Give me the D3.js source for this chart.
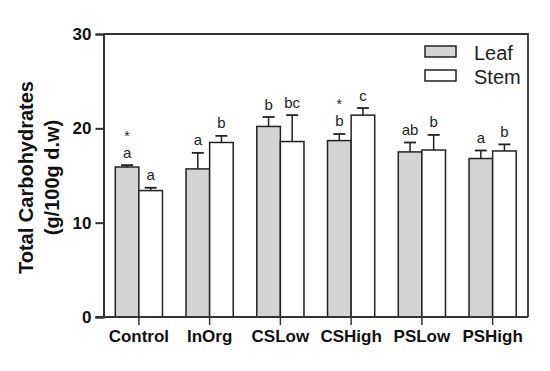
<!DOCTYPE html>
<html><head><meta charset="utf-8">
<script src="https://cdn.jsdelivr.net/npm/d3@7"></script>
<style>body{margin:0;background:#fff}svg{display:block}</style>
</head><body>
<script>
const categories = ["Control","InOrg","CSLow","CSHigh","PSLow","PSHigh"];
const seriesNames = ["Leaf","Stem"];
const leafValues = [15.9, 15.7, 20.2, 18.7, 17.5, 16.8];
const leafErrors = [0.2, 1.7, 1.0, 0.7, 1.0, 0.85];
const stemValues = [13.4, 18.5, 18.6, 21.4, 17.7, 17.6];
const stemErrors = [0.3, 0.7, 2.8, 0.75, 1.6, 0.7];
const leafLetters = ["a","a","b","b","ab","a"];
const stemLetters = ["a","b","bc","c","b","b"];
const leafStars = [true,false,false,true,false,false];
const yTicks = [0,10,20,30];

const W=550,H=371;
const m={l:103.5,r:22,t:34,b:54};
const FONT="Liberation Sans, Arial, sans-serif";
const svg=d3.select("body").append("svg").attr("width",W).attr("height",H);
const x=d3.scaleBand().domain(categories).range([m.l,W-m.r]).paddingInner(0).paddingOuter(0);
const y=d3.scaleLinear().domain([0,30]).range([H-m.b,m.t]);
const bw=23.6;
const xs=d3.scaleBand().domain(seriesNames).range([x.bandwidth()/2-bw,x.bandwidth()/2+bw]);
const fills={Leaf:"#d4d4d4",Stem:"#ffffff"};
const stroke="#222";

const data=[];
categories.forEach((c,i)=>{
  data.push({c,s:"Leaf",v:leafValues[i],e:leafErrors[i],l:leafLetters[i],star:leafStars[i]});
  data.push({c,s:"Stem",v:stemValues[i],e:stemErrors[i],l:stemLetters[i],star:false});
});

// frame top/right
svg.append("path").attr("d",`M${m.l},${m.t}H${W-m.r}V${H-m.b}`).attr("fill","none").attr("stroke","#333").attr("stroke-width",1.8);

const g=svg.append("g");
data.forEach(d=>{
  const x0=x(d.c)+xs(d.s), cx=x0+bw/2;
  g.append("rect").attr("x",x0).attr("y",y(d.v)).attr("width",bw).attr("height",y(0)-y(d.v))
   .attr("fill",fills[d.s]).attr("stroke",stroke).attr("stroke-width",1.5);
  g.append("line").attr("x1",cx).attr("x2",cx).attr("y1",y(d.v)).attr("y2",y(d.v+d.e)).attr("stroke",stroke).attr("stroke-width",1.5);
  g.append("line").attr("x1",cx-6).attr("x2",cx+6).attr("y1",y(d.v+d.e)).attr("y2",y(d.v+d.e)).attr("stroke",stroke).attr("stroke-width",1.8);
  const ty=y(d.v+d.e)-7.5;
  g.append("text").attr("x",cx).attr("y",ty).attr("text-anchor","middle")
   .attr("font-family",FONT).attr("font-size",15).attr("fill","#222").text(d.l);
  if(d.star){
    g.append("text").attr("x",cx).attr("y",ty-17).attr("text-anchor","middle")
     .attr("font-family",FONT).attr("font-size",14).attr("fill","#222").text("*");
  }
});

// y axis
const ya=svg.append("g").attr("transform",`translate(${m.l},0)`).call(d3.axisLeft(y).tickValues(yTicks).tickSize(8).tickPadding(4));
ya.select(".domain").attr("stroke","#333").attr("stroke-width",2);
ya.selectAll(".tick line").attr("stroke","#333").attr("stroke-width",2);
ya.selectAll("text").attr("font-family",FONT).attr("font-size",17).attr("font-weight","bold").attr("fill","#111");

// x axis
const xa=svg.append("g").attr("transform",`translate(0,${H-m.b})`).call(d3.axisBottom(x).tickSize(8).tickPadding(4.5).tickSizeOuter(0));
xa.select(".domain").attr("stroke","#333").attr("stroke-width",2).attr("d",`M${m.l-8},0H${W-m.r}`);
xa.selectAll(".tick line").attr("stroke","#333").attr("stroke-width",1.5);
xa.selectAll("text").attr("font-family",FONT).attr("font-size",17).attr("font-weight","bold").attr("fill","#111");

// y title
const yt=svg.append("g").attr("transform",`translate(0,177.5) rotate(-90)`);
yt.append("text").attr("x",0).attr("y",33).attr("text-anchor","middle").attr("font-family",FONT)
  .attr("font-size",20).attr("font-weight","bold").attr("fill","#111").text("Total Carbohydrates");
yt.append("text").attr("x",0).attr("y",59).attr("text-anchor","middle").attr("font-family",FONT)
  .attr("font-size",20).attr("font-weight","bold").attr("fill","#111").text("(g/100g d.w)");

// legend
const lg=svg.append("g");
seriesNames.forEach((s,i)=>{
  const yy=46+i*24;
  lg.append("rect").attr("x",425).attr("y",yy).attr("width",31).attr("height",11).attr("fill",fills[s]).attr("stroke",stroke).attr("stroke-width",1.5);
  lg.append("text").attr("x",474).attr("y",yy+14).attr("font-family",FONT).attr("font-size",20).attr("fill","#222").text(s);
});
</script>
</body></html>
